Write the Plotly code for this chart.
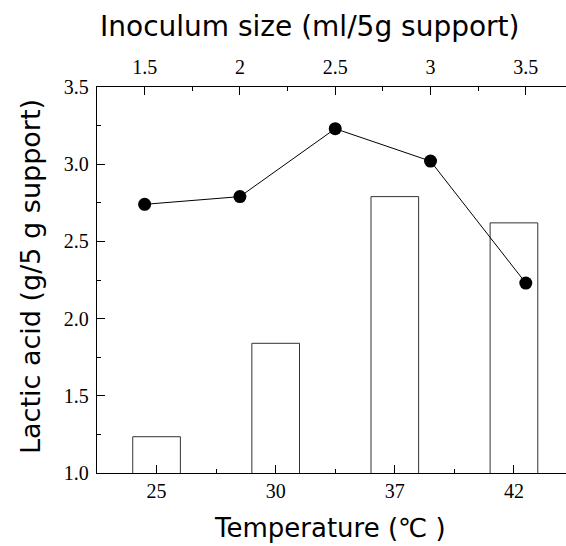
import plotly.graph_objects as go

# ---- data ----
temperatures = ["25", "30", "37", "42"]
bar_values = [1.235, 1.84, 2.79, 2.62]

inoculum_sizes = [1.5, 2.0, 2.5, 3.0, 3.5]
inoculum_labels = ["1.5", "2", "2.5", "3", "3.5"]
line_values = [2.74, 2.79, 3.23, 3.02, 2.23]

y_ticks = [1.0, 1.5, 2.0, 2.5, 3.0, 3.5]
y_minor = [1.25, 1.75, 2.25, 2.75, 3.25]

x_title = "Temperature (℃ )"
x2_title = "Inoculum size (ml/5g support)"
y_title = "Lactic acid (g/5 g support)"

tick_font = dict(family="Liberation Serif", size=20, color="black")


def title_font(size):
    return dict(family="DejaVu Sans", size=size, color="black")


fig = go.Figure()
fig.add_trace(go.Bar(
    x=list(range(len(temperatures))), y=bar_values, width=0.40,
    marker=dict(color="white", line=dict(color="#333333", width=1)),
    xaxis="x", yaxis="y", showlegend=False,
))
fig.add_trace(go.Scatter(
    x=inoculum_sizes, y=line_values, mode="lines+markers",
    line=dict(color="black", width=1),
    marker=dict(color="black", size=13),
    xaxis="x2", yaxis="y", showlegend=False,
))

common = dict(showgrid=False, zeroline=False, showline=True, linecolor="black",
              linewidth=1.3, ticks="inside", ticklen=8, tickwidth=1.3,
              tickcolor="black", tickfont=tick_font)

fig.update_layout(
    width=566, height=546,
    margin=dict(l=97, r=0, t=87, b=73, pad=0),
    plot_bgcolor="white", paper_bgcolor="white",
    xaxis=dict(range=[-0.5, 3.437], tickvals=list(range(len(temperatures))),
               ticktext=temperatures,
               minor=dict(tickvals=[0.5, 1.5, 2.5], ticks="inside", ticklen=4,
                          tickwidth=1.3, tickcolor="black"),
               **common),
    xaxis2=dict(overlaying="x", side="top", range=[1.25, 3.711],
                tickvals=inoculum_sizes, ticktext=inoculum_labels,
                ticklabelstandoff=4,
                minor=dict(tickvals=[1.75, 2.25, 2.75, 3.25], ticks="inside",
                           ticklen=4, tickwidth=1.3, tickcolor="black"),
                **common),
    yaxis=dict(range=[1.0, 3.5], tickvals=y_ticks,
               ticktext=[f"{v:.1f}" for v in y_ticks],
               ticklabelstandoff=3,
               minor=dict(tickvals=y_minor, ticks="inside", ticklen=4,
                          tickwidth=1.3, tickcolor="black"),
               **common),
    annotations=[
        dict(text=x2_title, xref="paper", yref="paper", x=(310 - 97) / 469,
             y=(473 - 27) / 386, xanchor="center", yanchor="middle",
             showarrow=False, font=title_font(28)),
        dict(text=x_title, xref="paper", yref="paper", x=(330 - 97) / 469,
             y=(473 - 528) / 386, xanchor="center", yanchor="middle",
             showarrow=False, font=title_font(26)),
        dict(text=y_title, xref="paper", yref="paper", x=(30 - 97) / 469,
             y=(473 - 277) / 386, xanchor="center", yanchor="middle",
             textangle=-90, showarrow=False, font=title_font(27)),
    ],
)

fig.write_html("out.html")
